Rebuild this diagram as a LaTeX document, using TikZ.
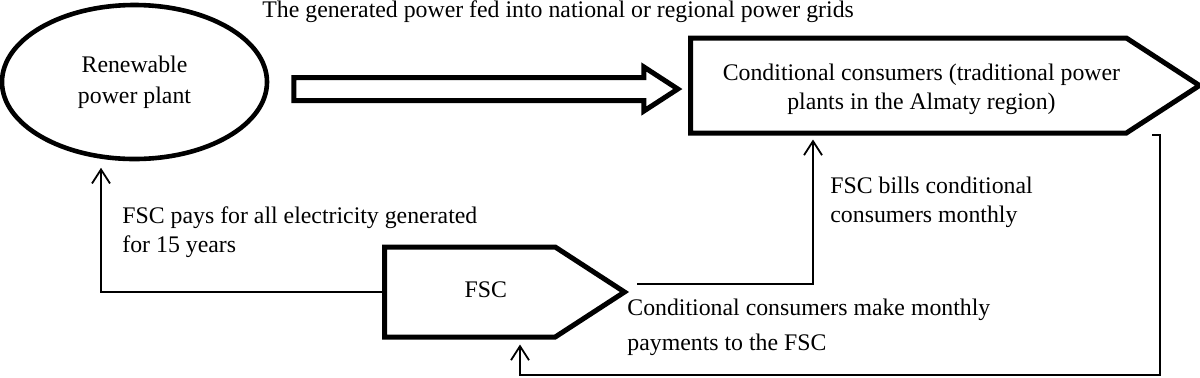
\documentclass[tikz,border=0pt]{standalone}
\usepackage{fontspec}
\setmainfont{Liberation Serif}
\usetikzlibrary{shapes.geometric, shapes.symbols, shapes.arrows, arrows.meta, positioning}

\begin{document}
\begin{tikzpicture}[x=0.5pt, y=-0.5pt,
    every node/.style={font=\fontsize{11.9}{14.5}\selectfont},
    plant/.style={ellipse, draw=black, line width=2.3pt, inner sep=0pt, minimum width=132.5pt, minimum height=77pt, align=center},
    pointer/.style={signal, signal to=east, signal pointer angle=66, draw=black, line width=2.5pt},
    hollow/.style={single arrow, draw=black, line width=2.5pt, inner xsep=0pt, inner ysep=4.5pt, minimum height=192pt, minimum width=19.5pt, single arrow head extend=5.25pt, single arrow tip angle=66},
    note/.style={align=left, inner sep=0pt, anchor=base west},
    flow/.style={-{Straight Barb[length=7pt, width=9pt]}, line width=0.9pt}
]
    \useasboundingbox (0,0) rectangle (1200,377);

    % Top row: plant feeds the grid
    \node[plant] (plant) at (134.5,82) {Renewable\\[1pt]power plant};
    \node[hollow, anchor=tail] (feed) at ([shift={(11pt,-3.5pt)}]plant.east) {};
    \node[pointer, anchor=west, minimum width=254.5pt, minimum height=47.5pt] (consumers) at (688,85.5) {};
    \node[align=center] (consumerstext) at ([shift={(6.5pt,-2pt)}]consumers.center) {Conditional consumers (traditional power\\plants in the Almaty region)};
    \node[note] (gridtext) at (262,17) {The generated power fed into national or regional power grids};

    % Bottom row: FSC
    \node[pointer, anchor=west, minimum width=120pt, minimum height=45pt] (fsc) at (382,292) {};
    \node (fsctext) at ([shift={(8pt,1pt)}]fsc.center) {FSC};

    % Columns of the connectors
    \coordinate (paysx) at (101,0);
    \coordinate (billx) at (813,0);
    \coordinate (loopx) at (1160,0);
    \coordinate (backx) at (520,0);
    \coordinate (loopy) at (0,375);
    \coordinate (tick) at (1152,135);

    \draw[flow, shorten >=3.25pt] (fsc.west) -| (paysx |- plant.south);
    \draw[flow, shorten >=2pt] ([shift={(4pt,4pt)}]fsc.east) -| (billx |- consumers.south);
    \draw[flow, shorten >=2.5pt] (tick) -- (loopx |- tick) |- (backx |- loopy) -- (backx |- fsc.south);

    % Labels
    \node[note] (paystext) at (122,252) {FSC pays for all electricity generated\\for 15 years};
    \node[note] (billstext) at (830,222) {FSC bills conditional\\consumers monthly};
    \node[note] (paymtext) at (627,350) {Conditional consumers make monthly\\[3pt]payments to the FSC};
\end{tikzpicture}
\end{document}
